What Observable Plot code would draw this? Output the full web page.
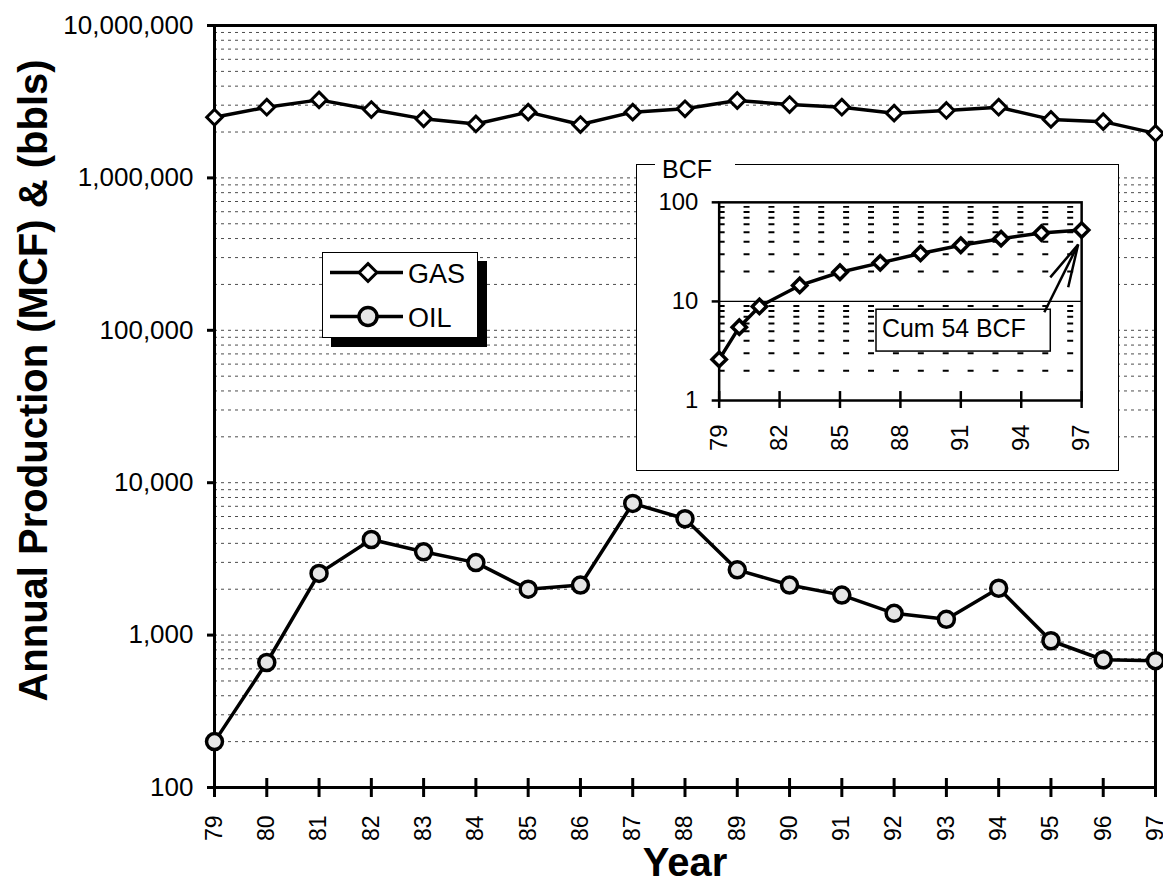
<!DOCTYPE html>
<html><head><meta charset="utf-8">
<script src="https://cdn.jsdelivr.net/npm/d3@7"></script>
<script src="https://cdn.jsdelivr.net/npm/@observablehq/plot@0.6"></script>
<style>
html,body{margin:0;padding:0;background:#fff;overflow:hidden;}
#wrap{position:relative;width:1163px;height:888px;font-family:"Liberation Sans",Arial,Helvetica,sans-serif;color:#000;}
#wrap svg{display:block;}
#legend{position:absolute;left:322px;top:252px;width:156px;height:86px;box-sizing:border-box;border:1.5px solid #000;background:#fff;box-shadow:9px 9px 0 #000;}
#legend svg{position:absolute;left:-1.5px;top:-1.5px;overflow:visible;}
#inset{position:absolute;left:636px;top:164px;width:483px;height:307px;box-sizing:border-box;border:1.5px solid #000;background:#fff;}
#inset svg{position:absolute;left:-1.5px;top:-1.5px;}
#bcf{position:absolute;left:655px;top:154px;width:80px;height:30px;background:#fff;font-size:25px;line-height:30px;padding-left:7px;box-sizing:border-box;}
</style></head><body>
<div id="wrap"><div id="mainHost"></div><div id="legend"></div><div id="inset"></div><div id="bcf">BCF</div></div>
<script>
// ---- data ----
const years = [79,80,81,82,83,84,85,86,87,88,89,90,91,92,93,94,95,96,97];
const gasMCF = [2500000,2910000,3250000,2810000,2440000,2260000,2700000,2240000,2700000,2840000,3220000,3030000,2910000,2660000,2770000,2910000,2420000,2340000,1960000];
const oilBBL = [200,661,2540,4240,3520,2990,2000,2130,7310,5800,2680,2130,1830,1390,1270,2030,918,689,680];
const cumYears = [79,80,81,83,85,87,89,91,93,95,97];
const cumBCF = [2.6,5.5,8.9,14.5,19.7,24.5,30.5,36.9,43,49,52.5];
const yTicks = [100,1000,10000,100000,1000000,10000000];
const xTicks = years;
const insetYTicks = [1,10,100];
const insetXTicks = [79,82,85,88,91,94,97];
const yTitle = "Annual Production (MCF) & (bbls)";
const xTitle = "Year";
const cumLabel = "Cum 54 BCF";
const legendLabels = ["GAS","OIL"];

const gasData = years.map((y,i)=>({year:y, value:gasMCF[i]}));
const oilData = years.map((y,i)=>({year:y, value:oilBBL[i]}));
const cumData = cumYears.map((y,i)=>({year:y, value:cumBCF[i]}));
const mults = [1,2,3,4,5,6,7,8,9];
const gridVals = yTicks.slice(0,-1).flatMap(t=>mults.map(m=>m*t)).filter(v=>v>100);
const insetMinor = insetYTicks.slice(0,-1).flatMap(t=>mults.slice(1).map(m=>m*t));
const FONT = "Liberation Sans, Arial, Helvetica, sans-serif";

// ---- main chart ----
const main = Plot.plot({
  width:1163, height:888,
  marginLeft:214, marginRight:8, marginTop:25, marginBottom:101,
  style:{fontFamily:FONT, background:"white", color:"black", overflow:"visible"},
  x:{domain:[79,97]},
  y:{type:"log", domain:[100,10000000]},
  marks:[
    Plot.ruleY(gridVals, {stroke:"#000", strokeOpacity:0.7, strokeWidth:1, strokeDasharray:"3,4"}),
    Plot.axisY(yTicks, {tickSize:7, tickPadding:14, tickFormat:d3.format(","), fontSize:26, strokeWidth:3, label:null}),
    Plot.axisX(xTicks, {tickSize:19, dy:-9, tickPadding:18, tickRotate:-90, fontSize:23, strokeWidth:3, label:null, tickFormat:d=>String(d)}),
    Plot.frame({strokeWidth:3}),
    Plot.line(gasData, {x:"year", y:"value", stroke:"black", strokeWidth:3.5}),
    Plot.dot(gasData, {x:"year", y:"value", symbol:"diamond2", r:7, fill:"white", stroke:"black", strokeWidth:3}),
    Plot.line(oilData, {x:"year", y:"value", stroke:"black", strokeWidth:3.5}),
    Plot.dot(oilData, {x:"year", y:"value", symbol:"circle", r:8, fill:"#e6e6e6", stroke:"black", strokeWidth:3.5}),
    Plot.text([yTitle], {text:d=>d, frameAnchor:"left", textAnchor:"middle", lineAnchor:"middle", rotate:-90, dx:-180, dy:-26, fontSize:40, fontWeight:"bold"}),
    Plot.text([xTitle], {text:d=>d, frameAnchor:"bottom", textAnchor:"middle", lineAnchor:"middle", dy:76, fontSize:40, fontWeight:"bold"})
  ]
});
document.getElementById("mainHost").appendChild(main);

// ---- legend ----
const lg = d3.select("#legend").append("svg").attr("width",156).attr("height",86);
const rows = [
  {label:legendLabels[0], y:20.5, sym:d3.symbolDiamond2, size:Math.PI*8*8, fill:"white", sw:3},
  {label:legendLabels[1], y:64.5, sym:d3.symbolCircle, size:Math.PI*9*9, fill:"#e6e6e6", sw:3.5}
];
rows.forEach(r=>{
  lg.append("line").attr("x1",8).attr("x2",81).attr("y1",r.y).attr("y2",r.y).attr("stroke","#000").attr("stroke-width",3.5);
  lg.append("path").attr("d",d3.symbol(r.sym,r.size)()).attr("transform",`translate(46,${r.y})`).attr("fill",r.fill).attr("stroke","#000").attr("stroke-width",r.sw);
  lg.append("text").attr("x",86).attr("y",r.y+10).attr("font-size",27).attr("font-family",FONT).text(r.label);
});

// ---- inset ----
const inset = Plot.plot({
  width:483, height:307,
  marginLeft:83, marginRight:36, marginTop:38, marginBottom:70,
  style:{fontFamily:FONT, background:"transparent", color:"black", overflow:"visible"},
  x:{domain:[79,97]},
  y:{type:"log", domain:[1,100]},
  marks:[
    Plot.ruleY(insetMinor, {stroke:"#000", strokeWidth:2, strokeDasharray:"6,19"}),
    Plot.ruleY([10], {stroke:"#000", strokeWidth:1.3}),
    Plot.axisY(insetYTicks, {tickSize:7, tickPadding:14, fontSize:24, strokeWidth:2.5, label:null, tickFormat:d=>String(d)}),
    Plot.axisX(insetXTicks, {tickSize:17, dy:-9, tickPadding:16, tickRotate:-90, fontSize:24, strokeWidth:2.5, label:null, tickFormat:d=>String(d)}),
    Plot.frame({strokeWidth:2.5}),
    Plot.line(cumData, {x:"year", y:"value", stroke:"black", strokeWidth:3.5}),
    Plot.dot(cumData, {x:"year", y:"value", symbol:"diamond2", r:6.5, fill:"white", stroke:"black", strokeWidth:3.5})
  ]
});
document.getElementById("inset").appendChild(inset);

// annotation anchored on the last cumulative point, via the inset's scales
const sx = inset.scale("x"), sy = inset.scale("y");
const last = cumData[cumData.length-1];
const px = sx.apply(last.year), py = sy.apply(last.value);
const ann = d3.select(inset).append("g");
ann.append("rect").attr("x",px-206).attr("y",py+80).attr("width",175).attr("height",42)
  .attr("fill","white").attr("stroke","#000").attr("stroke-width",1.5);
ann.append("text").attr("x",px-200).attr("y",py+108).attr("font-size",25).attr("font-family",FONT)
  .attr("text-anchor","start").attr("fill","#000").text(cumLabel);
const tip = [px-3, py+15];
ann.append("line").attr("x1",px-37).attr("y1",py+83).attr("x2",tip[0]).attr("y2",tip[1]).attr("stroke","#000").attr("stroke-width",2.5);
ann.append("path").attr("d",`M${tip[0]-28},${tip[1]+33}L${tip[0]},${tip[1]}L${tip[0]-10},${tip[1]+43}`)
  .attr("fill","none").attr("stroke","#000").attr("stroke-width",2.5).attr("stroke-linejoin","miter");
</script>
</body></html>
